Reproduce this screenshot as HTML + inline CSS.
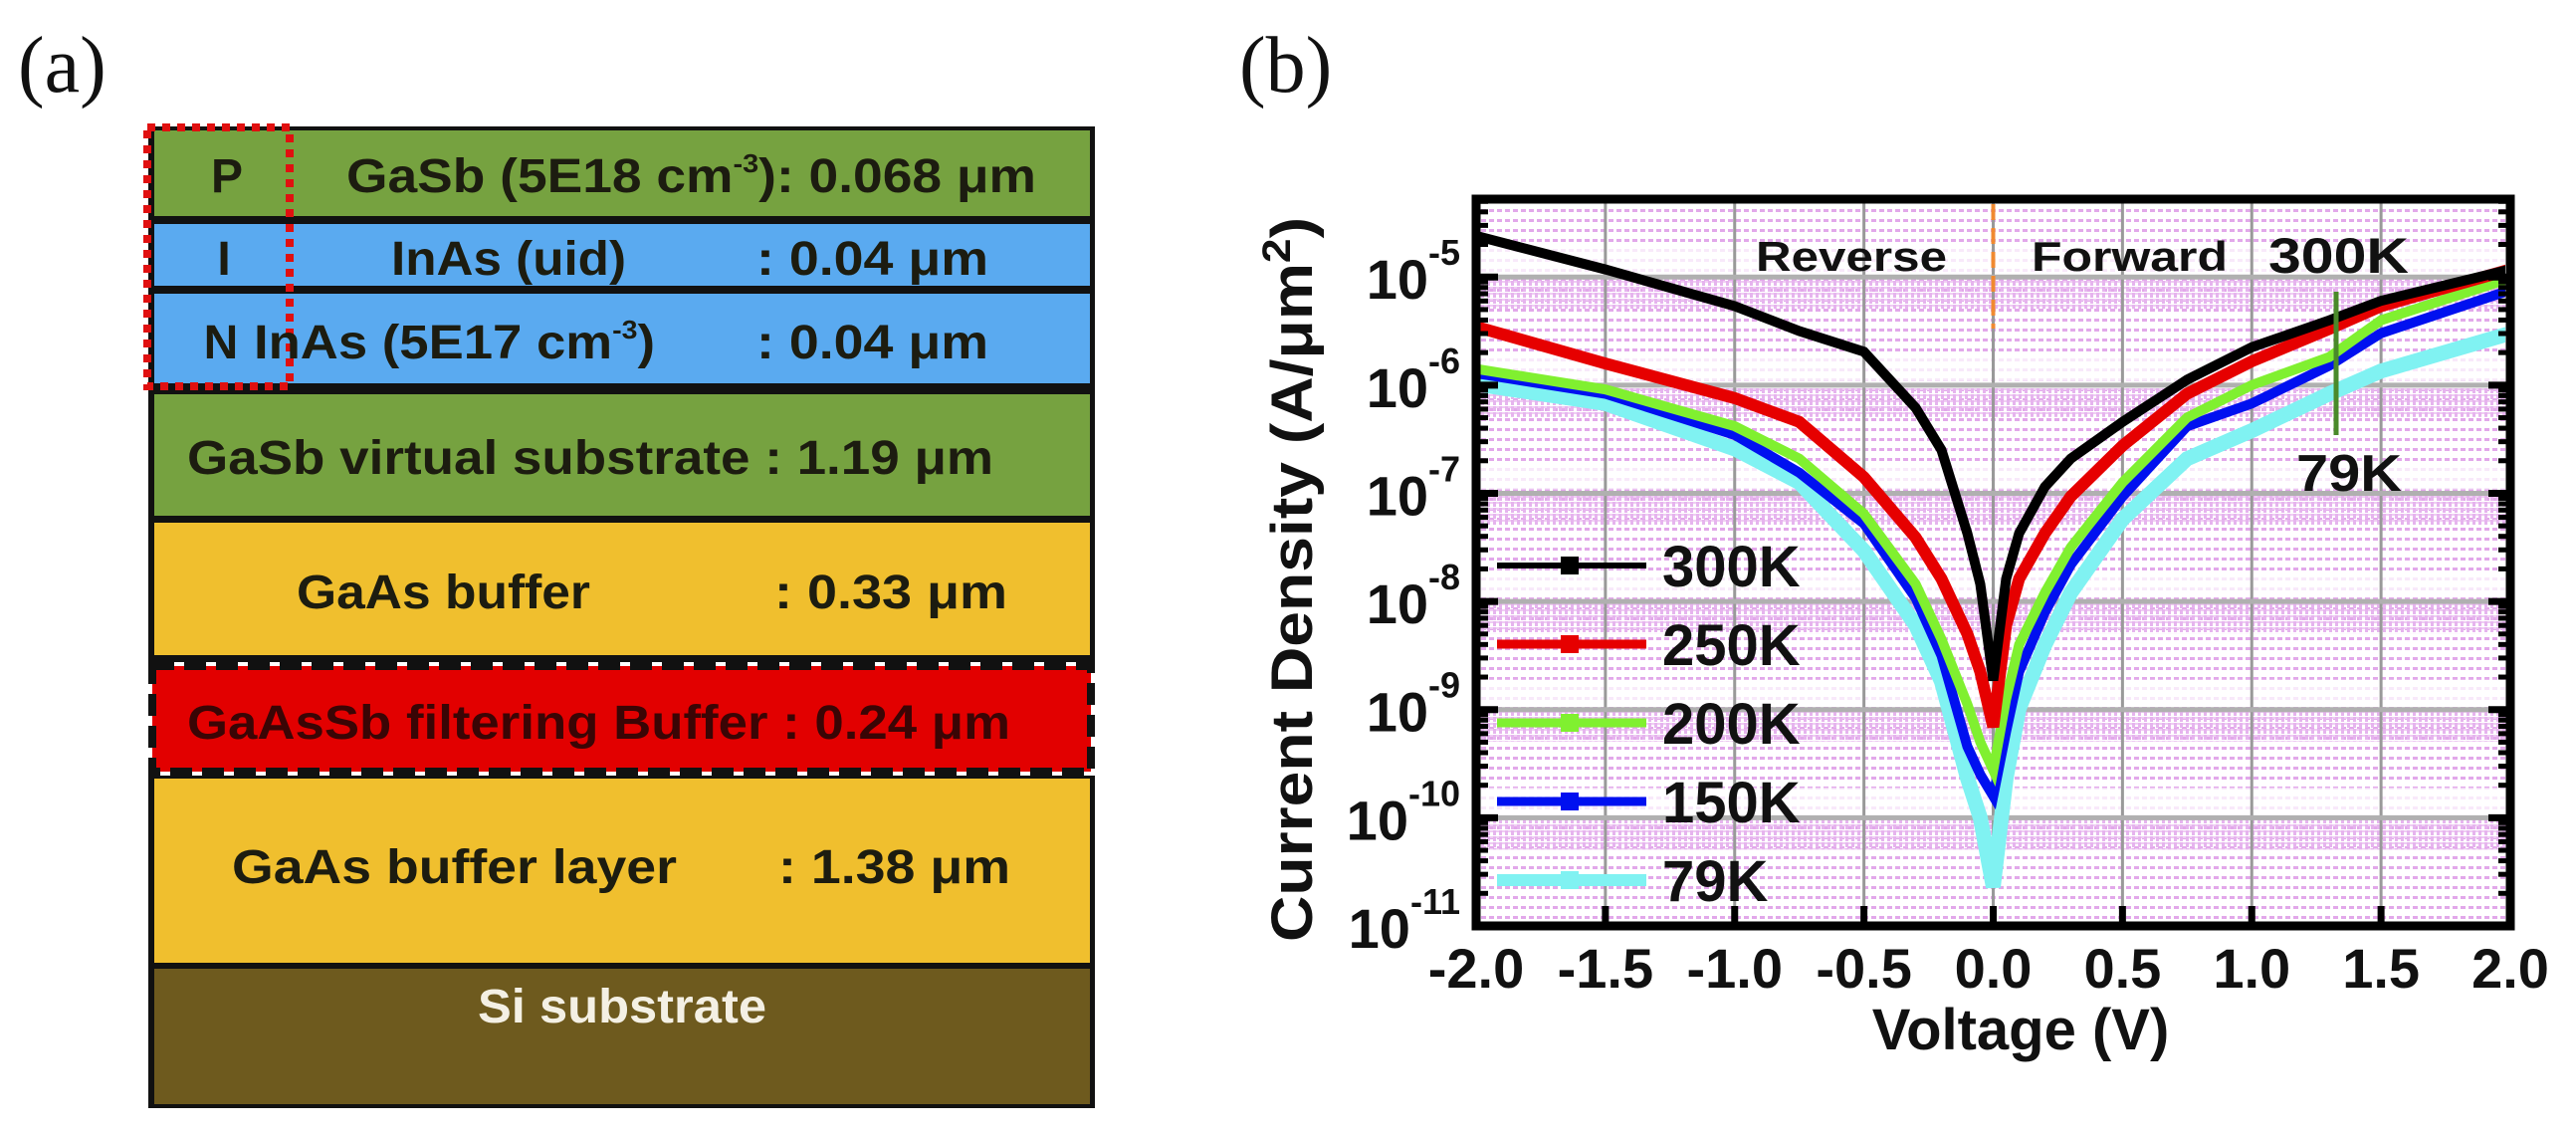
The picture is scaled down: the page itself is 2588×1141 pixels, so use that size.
<!DOCTYPE html>
<html><head><meta charset="utf-8"><style>
html,body{margin:0;padding:0;background:#fff;}
svg{display:block;}
.lt{font-family:"Liberation Sans",sans-serif;font-weight:bold;font-size:48px;fill:#1c1c10;}
.ax{font-family:"Liberation Sans",sans-serif;font-weight:bold;fill:#111;}
</style></head><body>
<svg id="fig" width="2588" height="1141" viewBox="0 0 2588 1141" xmlns="http://www.w3.org/2000/svg">
<defs>
<pattern id="dots" width="8" height="10" patternUnits="userSpaceOnUse"><rect x="0" y="0" width="5" height="3" fill="#e2a8ea"/></pattern>
<pattern id="dense" width="6" height="6" patternUnits="userSpaceOnUse"><rect x="0" y="0" width="3" height="5" fill="#e6b4ee"/><rect x="3" y="0" width="3" height="2" fill="#efcdf3"/></pattern>
<clipPath id="pclip"><rect x="1487" y="204" width="1030" height="722"/></clipPath>
</defs>

<!-- Panel (a) -->
<g>
<text x="18" y="92" font-family="Liberation Serif,serif" font-size="80" fill="#111">(a)</text>
<rect x="149" y="127" width="951" height="986" fill="#111"/>
<rect x="155" y="131" width="940" height="86" fill="#76a240"/>
<rect x="155" y="225" width="940" height="62" fill="#5aaaf0"/>
<rect x="155" y="295" width="940" height="90" fill="#5aaaf0"/>
<rect x="155" y="396" width="940" height="122" fill="#76a240"/>
<rect x="155" y="525" width="940" height="133" fill="#f0bf2e"/>
<rect x="149" y="665" width="951" height="114" fill="#fff"/>
<rect x="153" y="669" width="943" height="106" fill="#e20000" stroke="#111" stroke-width="8" stroke-dasharray="22,10"/>
<rect x="155" y="782" width="940" height="185" fill="#f0bf2e"/>
<rect x="155" y="973" width="940" height="136" fill="#6e5a1e"/>
<rect x="148" y="128" width="143" height="260" fill="none" stroke="#e01010" stroke-width="8" stroke-dasharray="8,7"/>

<text class="lt" x="228" y="193" text-anchor="middle">P</text>
<text class="lt" x="348" y="193" textLength="693" lengthAdjust="spacingAndGlyphs">GaSb (5E18 cm<tspan font-size="26" dy="-20">-3</tspan><tspan dy="20">): 0.068 μm</tspan></text>
<text class="lt" x="225" y="276" text-anchor="middle">I</text>
<text class="lt" x="393" y="276" textLength="236" lengthAdjust="spacingAndGlyphs">InAs (uid)</text>
<text class="lt" x="760" y="276" textLength="233" lengthAdjust="spacingAndGlyphs">: 0.04 μm</text>
<text class="lt" x="222" y="360" text-anchor="middle">N</text>
<text class="lt" x="255" y="360" textLength="403" lengthAdjust="spacingAndGlyphs">InAs (5E17 cm<tspan font-size="26" dy="-20">-3</tspan><tspan dy="20">)</tspan></text>
<text class="lt" x="760" y="360" textLength="233" lengthAdjust="spacingAndGlyphs">: 0.04 μm</text>
<text class="lt" x="188" y="476" textLength="810" lengthAdjust="spacingAndGlyphs">GaSb virtual substrate : 1.19 μm</text>
<text class="lt" x="298" y="611" textLength="295" lengthAdjust="spacingAndGlyphs">GaAs buffer</text>
<text class="lt" x="778" y="611" textLength="234" lengthAdjust="spacingAndGlyphs">: 0.33 μm</text>
<text class="lt" x="188" y="742" textLength="827" lengthAdjust="spacingAndGlyphs" style="fill:#3a0505">GaAsSb filtering Buffer : 0.24 μm</text>
<text class="lt" x="233" y="887" textLength="447" lengthAdjust="spacingAndGlyphs">GaAs buffer  layer</text>
<text class="lt" x="782" y="887" textLength="233" lengthAdjust="spacingAndGlyphs">: 1.38 μm</text>
<text class="lt" x="480" y="1027" textLength="290" lengthAdjust="spacingAndGlyphs" style="fill:#f4f0e4">Si substrate</text>
</g>

<!-- Panel (b) -->
<g id="panelb">
<text x="1245" y="92" font-family="Liberation Serif,serif" font-size="80" fill="#111">(b)</text>
</g>
</svg>
<script>
const voltages = [-2,-1.5,-1,-0.75,-0.5,-0.3,-0.2,-0.1,-0.05,0,0.05,0.1,0.2,0.3,0.5,0.75,1.0,1.3,1.5,2.0];
const logJ300 = [-4.62,-4.93,-5.27,-5.50,-5.69,-6.21,-6.6,-7.37,-7.84,-8.73,-7.79,-7.37,-6.94,-6.68,-6.34,-5.95,-5.65,-5.4,-5.22,-4.93];
const logJ250 = [-5.46,-5.8,-6.12,-6.34,-6.85,-7.41,-7.79,-8.3,-8.65,-9.16,-8.22,-7.79,-7.37,-7.03,-6.56,-6.08,-5.78,-5.48,-5.27,-4.93];
const logJ200 = [-5.85,-6.04,-6.38,-6.68,-7.19,-7.84,-8.35,-8.95,-9.3,-9.56,-8.9,-8.4,-7.92,-7.5,-6.9,-6.3,-6.0,-5.74,-5.4,-5.01];
const logJ150 = [-5.89,-6.08,-6.46,-6.81,-7.28,-7.97,-8.5,-9.34,-9.6,-9.8,-9.2,-8.65,-8.1,-7.66,-7.03,-6.38,-6.17,-5.82,-5.52,-5.12];
const logJ79 = [-5.99,-6.17,-6.59,-6.9,-7.53,-8.22,-8.74,-9.63,-10.0,-10.64,-9.63,-8.99,-8.4,-7.92,-7.24,-6.68,-6.42,-6.08,-5.87,-5.52];
const seriesNames = ["300K","250K","200K","150K","79K"];
const xTicks = [-2.0,-1.5,-1.0,-0.5,0.0,0.5,1.0,1.5,2.0];
const yTickExps = [-5,-6,-7,-8,-9,-10,-11];

const NS = "http://www.w3.org/2000/svg";
const g = document.getElementById('panelb');
const X0 = 1483, X1 = 2522, Y_TOP = 200, Y_BOT = 930;
const xMin = -2, xMax = 2, yTopLog = -4.28, yBotLog = -11;
function xs(v){ return X0 + (v - xMin) / (xMax - xMin) * (X1 - X0); }
function ys(l){ return Y_TOP + (yTopLog - l) / (yTopLog - yBotLog) * (Y_BOT - Y_TOP); }
function mk(tag, attrs, parent){ const e = document.createElementNS(NS, tag); for (const k in attrs) e.setAttribute(k, attrs[k]); (parent||g).appendChild(e); return e; }

const bg = mk('rect', {x:X0, y:Y_TOP, width:X1-X0, height:Y_BOT-Y_TOP, fill:'#fff'});


const bgp = mk('rect', {x:X0, y:Y_TOP, width:X1-X0, height:Y_BOT-Y_TOP, fill:'url(#dots)'});


for (let e = -5; e >= -11; e--) {
  const y0 = ys(e);
  if (y0 >= Y_BOT - 2) continue;
  const band = mk('rect', {x:X0, y:y0, width:X1-X0, height:Math.min(32, Y_BOT - y0), fill:'url(#dense)'});
  
  
  const wb = mk('rect', {x:X0, y:y0 - 30, width:X1-X0, height:26, fill:'#fff', opacity:0.75});
  
  
}
xTicks.forEach(v => {
  const l = mk('line', {x1:xs(v), x2:xs(v), y1:Y_TOP, y2:Y_BOT, stroke:'#999', 'stroke-width':3});
  
  
});
yTickExps.forEach(e => {
  const l = mk('line', {x1:X0, x2:X1, y1:ys(e), y2:ys(e), stroke:'#b0b0b0', 'stroke-width':5});
  
  
});
const od = mk('line', {x1:xs(0), x2:xs(0), y1:Y_TOP+5, y2:330, stroke:'#f08a30', 'stroke-width':4, 'stroke-dasharray':'16,8'});



const colors = ['#000000','#e60000','#80f030','#0010f0','#80f2f2'];
const widths = [10,12,10,10,15];
const seriesData = [logJ300, logJ250, logJ200, logJ150, logJ79];
const cg = mk('g', {'clip-path':'url(#pclip)'});


[4,3,2,1,0].forEach(i => {
  const pts = voltages.map((v, j) => xs(v).toFixed(1) + ',' + ys(seriesData[i][j]).toFixed(1)).join(' ');
  const pl = mk('polyline', {points:pts, fill:'none', stroke:colors[i], 'stroke-width':widths[i], 'stroke-linejoin':'miter'}, cg);
  
  
});

const legY = [568, 647, 726, 805, 884];
seriesNames.forEach((n, i) => {
  const ln = mk('line', {x1:1504, x2:1654, y1:legY[i], y2:legY[i], stroke:colors[i], 'stroke-width':i==4?12:(i==0?6:9)});
  
  
  const m = mk('rect', {x:1568, y:legY[i]-9, width:18, height:18, fill:colors[i]});
  
  
  const t = mk('text', {x:1670, y:legY[i]+21, class:'ax', 'font-size':58});
  t.textContent = n;
  
  
});

function txt(s, attrs, name){ const t = mk('text', attrs); t.textContent = s;   return t; }
txt('Reverse', {x:1764, y:272, class:'ax', 'font-size':42, textLength:192, lengthAdjust:'spacingAndGlyphs'}, 'reverse-label');
txt('Forward', {x:2041, y:272, class:'ax', 'font-size':42, textLength:197, lengthAdjust:'spacingAndGlyphs'}, 'forward-label');
txt('300K', {x:2279, y:274, class:'ax', 'font-size':50, textLength:141, lengthAdjust:'spacingAndGlyphs'}, 'annot-300k');
txt('79K', {x:2307, y:493, class:'ax', 'font-size':52, textLength:106, lengthAdjust:'spacingAndGlyphs'}, 'annot-79k');
const gm = mk('line', {x1:2347, x2:2347, y1:293, y2:437, stroke:'#4a8a2a', 'stroke-width':5});



const fr = mk('rect', {x:X0, y:Y_TOP, width:X1-X0, height:Y_BOT-Y_TOP, fill:'none', stroke:'#000', 'stroke-width':9});


yTickExps.forEach(e => {
  for (let k = 1; k <= 9; k++) {
    const l = e + Math.log10(k);
    if (l > yTopLog || l < yBotLog) continue;
    const len = k == 1 ? 22 : 12;
    [X0, X1].forEach((xx, s) => {
      const tk = mk('line', {x1:xx, x2: s ? xx - len : xx + len, y1:ys(l), y2:ys(l), stroke:'#000', 'stroke-width':k==1?7:5});
      
      
    });
  }
});
xTicks.forEach(v => {
  const tk = mk('line', {x1:xs(v), x2:xs(v), y1:Y_BOT, y2:Y_BOT-20, stroke:'#000', 'stroke-width':7});
  
  
  txt(v.toFixed(1), {x:xs(v), y:992, class:'ax', 'font-size':56, 'text-anchor':'middle'}, 'x-tick-label');
});
yTickExps.forEach(e => {
  const t = mk('text', {x:1467, y:ys(e)+22, class:'ax', 'font-size':56, 'text-anchor':'end'});
  
  
  const a = document.createElementNS(NS, 'tspan'); a.textContent = '10'; t.appendChild(a);
  const b = document.createElementNS(NS, 'tspan'); b.setAttribute('font-size', '36'); b.setAttribute('dy', '-34'); b.textContent = String(e); t.appendChild(b);
});
txt('Voltage (V)', {x:2030, y:1054, class:'ax', 'font-size':58, 'text-anchor':'middle'}, 'x-axis-title');
const yt = mk('text', {x:0, y:0, class:'ax', 'font-size':58, 'text-anchor':'middle', transform:'translate(1318,582) rotate(-90)', textLength:728, lengthAdjust:'spacingAndGlyphs'});


yt.appendChild(document.createTextNode('Current Density (A/μm'));
const sp = document.createElementNS(NS, 'tspan'); sp.setAttribute('font-size', '40'); sp.setAttribute('dy', '-22'); sp.textContent = '2'; yt.appendChild(sp);
const sp2 = document.createElementNS(NS, 'tspan'); sp2.setAttribute('dy', '22'); sp2.textContent = ')'; yt.appendChild(sp2);
</script>
</body></html>
